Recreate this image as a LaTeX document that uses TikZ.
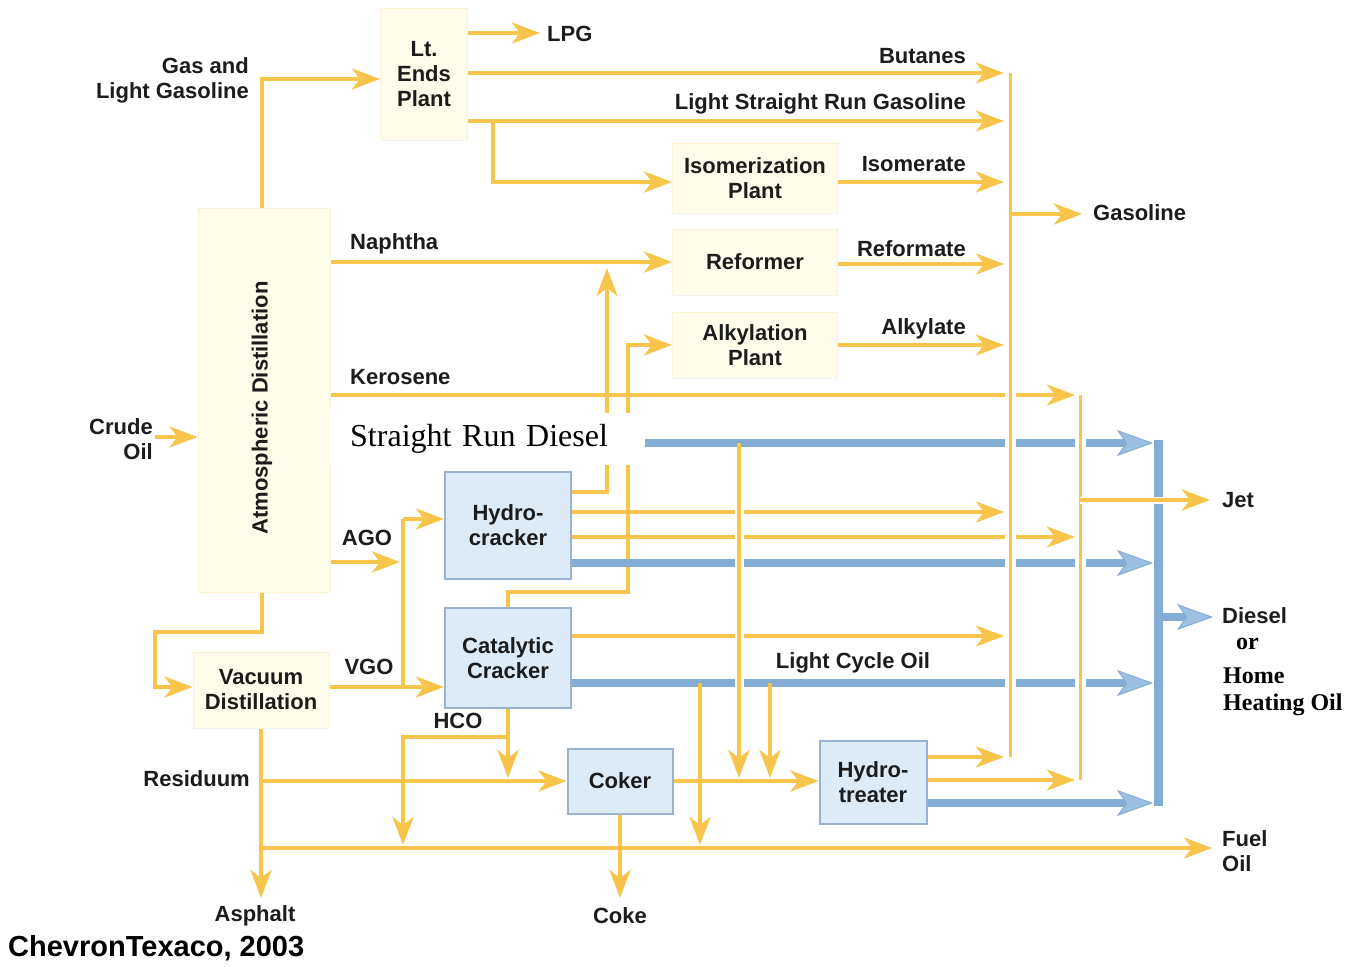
\documentclass[tikz,border=0pt]{standalone}
\usepackage{fontspec}
\setmainfont{Liberation Sans}
\newfontfamily\tnr{Liberation Serif}
\usetikzlibrary{arrows.meta,calc}
\definecolor{yel}{HTML}{F7C44C}
\definecolor{blu}{HTML}{84ADD6}
\definecolor{bluhead}{HTML}{9CC0E2}
\definecolor{bluefill}{HTML}{DDEBF7}
\definecolor{bluedraw}{HTML}{9AB4D0}
\definecolor{cream}{HTML}{FFFCEC}
\definecolor{creamdraw}{HTML}{F3E8C2}
\definecolor{ink}{HTML}{1C1C1C}
\begin{document}
\begin{tikzpicture}[x=1pt,y=-1pt,
  lbl/.style={font=\bfseries\fontsize{22}{25}\selectfont, inner sep=0pt, text=ink},
  serifb/.style={font=\tnr\bfseries\fontsize{24}{27}\selectfont, inner sep=0pt, text=black},
  creambox/.style={draw=creamdraw, densely dotted, line width=1pt, fill=cream, inner sep=0pt, align=center,
     font=\bfseries\fontsize{22}{25}\selectfont, text=ink},
  bluebox/.style={draw=bluedraw, line width=2pt, fill=bluefill, inner sep=0pt, align=center,
     font=\bfseries\fontsize{22}{25}\selectfont, text=ink},
  yl/.style={draw=yel, line width=4pt},
  ycol/.style={draw=yel, line width=3pt},
  ya/.style={yl, -{Stealth[length=28pt,width=21pt,inset=8pt,fill=yel]}},
  bl/.style={draw=blu, line width=8pt},
  ba/.style={bl, -{Stealth[length=36pt,width=26pt,inset=9pt,fill=bluhead,line width=1pt]}},
  cas/.style={preaction={draw=white, line width=#1, -, shorten <=6pt, shorten >=6pt}},
  cas/.default=11pt
]
\useasboundingbox (0,0) rectangle (1361,967);

% ---------- boxes ----------
\node[creambox, minimum width=87pt, minimum height=132pt] (lt) at (424,74) {Lt.\\Ends\\Plant};
\node[creambox, minimum width=132pt, minimum height=384pt] (atm) at (264,400) {};
\node[lbl, rotate=90] (atmtxt) at (262,408) {Atmospheric Distillation};
\node[creambox, minimum width=165pt, minimum height=70pt] (iso) at (755,178) {Isomerization\\Plant};
\node[creambox, minimum width=165pt, minimum height=66pt] (ref) at (755,262) {Reformer};
\node[creambox, minimum width=165pt, minimum height=66pt] (alk) at (755,345) {Alkylation\\Plant};
\node[creambox, minimum width=136pt, minimum height=76pt] (vac) at (261,690) {Vacuum\\Distillation};

\node[bluebox, minimum width=126pt, minimum height=107pt] (hc) at (508,525) {Hydro-\\cracker};
\node[bluebox, minimum width=126pt, minimum height=100pt] (cc) at (508,658) {Catalytic\\Cracker};
\node[bluebox, minimum width=105pt, minimum height=65pt] (cok) at (620,781) {Coker};
\node[bluebox, minimum width=107pt, minimum height=83pt] (ht) at (873,782) {Hydro-\\treater};

% ---------- named points ----------
\coordinate (lpgend) at (540,33);
\coordinate (gasin) at (1004,0);
\coordinate (jetin) at (1075,0);
\coordinate (dslin) at (1153,0);
\coordinate (gasx) at (1010,0);
\coordinate (jetx) at (1080,0);
\coordinate (dslx) at (1158,0);

% ---------- yellow lines from the middle ----------
\draw[ya] (hc.east |- 0,492) -- (607,492) -- (607,268);
\draw[ya] (cc.north) -- (508,592) -- (628,592) -- (628,345) -- (alk.west |- 0,345);

% top section
\draw[ya] (atm.north -| 262,0) -- (262,79) -- (lt.west |- 0,79);
\draw[ya] (lt.east |- lpgend) -- (lpgend);
\draw[ya] (lt.east |- 0,73) -- (gasin |- 0,73);
\draw[ya] (lt.east |- 0,121) -- (gasin |- 0,121);
\draw[ya] (493,121) -- (493,182) -- (iso.west |- 0,182);
\draw[ya] (iso.east |- 0,182) -- (gasin |- 0,182);
\draw[ya] (atm.east |- 0,262) -- (ref.west |- 0,262);
\draw[ya] (ref.east |- 0,264) -- (gasin |- 0,264);
\draw[ya] (alk.east |- 0,345) -- (gasin |- 0,345);
\draw[ya] (atm.east |- 0,395) -- (jetin |- 0,395);

% hydrocracker / cat cracker / hydrotreater outputs
\draw[ya] (hc.east |- 0,512) -- (gasin |- 0,512);
\draw[ya] (hc.east |- 0,537) -- (jetin |- 0,537);
\draw[ya] (cc.east |- 0,636) -- (gasin |- 0,636);
\draw[ya] (ht.east |- 0,757) -- (gasin |- 0,757);
\draw[ya] (ht.east |- 0,780) -- (jetin |- 0,780);

% blue lines
\draw[ba] (atm.east |- 0,443) -- (dslin |- 0,443);
\draw[ba] (hc.east |- 0,563) -- (dslin |- 0,563);
\draw[ba] (cc.east |- 0,683) -- (dslin |- 0,683);
\draw[ba] (ht.east |- 0,803) -- (dslin |- 0,803);

% verticals into hydrotreater feed and fuel oil
\draw[ya, cas=9pt] (739,443) -- (739,778);
\draw[ya] (770,683) -- (770,778);
\draw[ya] (700,683) -- (700,845);
\draw[ya] (cok.east) -- (ht.west |- cok.east);

% lower left
\draw[ya] (atm.south -| 262,0) -- (262,632) -- (155,632) -- (155,687) -- (vac.west |- 0,687);
\coordinate (crudeend) at (155,437);
\draw[ya] (crudeend) -- (atm.west |- crudeend);
\draw[ya] (atm.east |- 0,562) -- (400,562);
\draw[yl] (403,519) -- (403,687);
\draw[ya] (403,519) -- (hc.west |- 0,519);
\draw[ya] (vac.east |- 0,687) -- (cc.west |- 0,687);
\draw[ya] (vac.south -| 261,0) -- (261,898);
\draw[ya] (261,781) -- (cok.west);
\draw[ya] (261,848) -- (1212,848);
\draw[ya] (cc.south) -- (508,778);
\draw[ya] (508,737) -- (403,737) -- (403,845);
\draw[ya] (cok.south) -- (620,898);

% collectors
\draw[ycol, cas] (gasx |- 0,73) -- (gasx |- 0,757);
\draw[ya] (gasx |- 0,214) -- (1082,214);
\draw[ycol, cas] (jetx |- 0,395) -- (jetx |- 0,780);
\draw[draw=blu, line width=9pt] (dslx |- 0,440) -- (dslx |- 0,806);
\draw[ya, preaction={draw=white,line width=7pt,-}] (jetx |- 0,500) -- (1210,500);
\draw[ba] (dslx |- 0,617) -- (1213,617);

% straight run diesel label (white background)
\node[fill=white, anchor=west, inner xsep=20pt, text width=275pt, minimum height=52pt,
      font=\tnr\fontsize{32}{34}\selectfont, text=black] (srd) at (330,439) {Straight Run Diesel};

% ---------- labels ----------
\node[lbl, align=right, anchor=east] (gaslg) at (249,80) {Gas and\\Light Gasoline};
\node[lbl, anchor=west] (lpg) at (547,34) {LPG};
\node[lbl, anchor=east] (but) at (966,56) {Butanes};
\node[lbl, anchor=east] (lsr) at (966,104) {Light Straight Run Gasoline};
\node[lbl, anchor=east] (isom) at (966,164) {Isomerate};
\node[lbl, anchor=east] (refm) at (966,249) {Reformate};
\node[lbl, anchor=east] (alky) at (966,329) {Alkylate};
\node[lbl, anchor=west] (nap) at (350,244) {Naphtha};
\node[lbl, anchor=west] (ker) at (350,377) {Kerosene};
\node[lbl] (ago) at (367,538) {AGO};
\node[lbl] (vgo) at (369,667) {VGO};
\node[lbl] (hco) at (458,721) {HCO};
\node[lbl] (lco) at (853,663) {Light Cycle Oil};
\node[lbl, align=right, anchor=east] (crude) at (153,439) {Crude\\Oil};
\node[lbl, anchor=east] (resid) at (250,779) {Residuum};
\node[lbl] (asph) at (255,916) {Asphalt};
\node[lbl] (coke) at (620,916) {Coke};
\node[lbl, anchor=west] (gasol) at (1093,213) {Gasoline};
\node[lbl, anchor=west] (jet) at (1222,500) {Jet};
\node[lbl, anchor=west] (dsl) at (1222,616) {Diesel};
\node[serifb, anchor=west] (or) at (1236,644) {or};
\node[serifb, anchor=west] (home) at (1223,676) {Home};
\node[serifb, anchor=west] (heat) at (1223,705) {Heating Oil};
\node[lbl, align=left, anchor=west] (fuel) at (1222,851) {Fuel\\Oil};
\node[font=\bfseries\fontsize{29}{31}\selectfont, anchor=west, inner sep=0pt, text=black] (cred) at (8,948) {ChevronTexaco, 2003};
\end{tikzpicture}
\end{document}
